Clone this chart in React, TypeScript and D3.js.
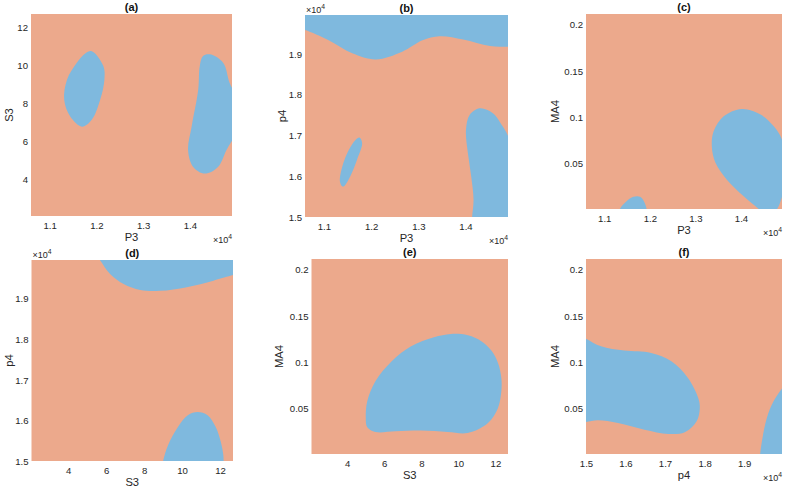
import React, { useEffect, useRef } from "react";
import * as d3 from "d3";

type Pt = [number, number];

// axis ranges and tick values for each parameter
const p3Domain: Pt = [10600, 14900];
const p3Ticks = [11000, 12000, 13000, 14000];
const s3Domain: Pt = [2.07, 12.68];
const s3Ticks = [4, 6, 8, 10, 12];
const p4Domain: Pt = [15000, 19960];
const p4Ticks = [15000, 16000, 17000, 18000, 19000];
const ma4Domain: Pt = [0.001, 0.2115];
const ma4Ticks = [0.05, 0.1, 0.15, 0.2];

// blue region outlines; open outlines are closed through the points in "outside"
const aLeft: Pt[] = [[11900, 10.73], [12150, 9.94], [12170, 9.23], [12080, 8.17], [11900, 7.12], [11690, 6.76], [11440, 7.29], [11310, 8.17], [11370, 9.23], [11580, 10.12], [11760, 10.61]];
const aRight: Pt[] = [[14426, 10.56], [14710, 10.12], [14850, 9.06], [15020, 8.17], [15060, 6.85], [14780, 5.53], [14600, 4.65], [14316, 4.3], [14070, 4.65], [13960, 5.53], [14036, 6.76], [14177, 8.7], [14210, 9.94], [14280, 10.47]];

const bTop: Pt[] = [[10400, 19640], [10600, 19590], [11100, 19340], [11600, 19020], [12100, 18870], [12660, 19060], [13090, 19340], [13450, 19440], [13950, 19360], [14520, 19200], [14930, 19180], [15100, 19180]];
const bTopOut: Pt[] = [[15100, 20500], [10400, 20500]];
const bSmall: Pt[] = [[11754, 16950], [11810, 16810], [11700, 16400], [11560, 16000], [11440, 15770], [11390, 15750], [11340, 15870], [11390, 16240], [11530, 16650], [11670, 16890]];
const bRight: Pt[] = [[14130, 14700], [14140, 15000], [14170, 15420], [14120, 16000], [14050, 16570], [14010, 17140], [14090, 17510], [14300, 17670], [14580, 17550], [14790, 17220], [14910, 16970], [15050, 16600]];
const bRightOut: Pt[] = [[15200, 16600], [15200, 14700]];

const cSmall: Pt[] = [[11300, -0.01], [11345, 0.0011], [11490, 0.0093], [11640, 0.0141], [11786, 0.0141], [11870, 0.0093], [11930, 0.0011], [11950, -0.01]];
const cBig: Pt[] = [[13360, 0.0687], [13400, 0.0849], [13620, 0.101], [14020, 0.109], [14430, 0.1029], [14720, 0.0903], [14900, 0.0759], [14980, 0.05], [14930, 0.02], [14780, 0.0], [14600, -0.008], [14390, 0.001], [14060, 0.0147], [13690, 0.0327], [13440, 0.0508]];

const dTop: Pt[] = [[5.5, 20100], [5.7, 19940], [6.22, 19610], [6.92, 19370], [7.8, 19220], [8.85, 19200], [10.25, 19290], [11.65, 19450], [12.7, 19590], [13.0, 19630]];
const dTopOut: Pt[] = [[13.0, 20300], [5.5, 20300]];
const dBottom: Pt[] = [[8.95, 14800], [9.0, 15000], [9.26, 15390], [9.78, 15840], [10.3, 16130], [10.82, 16210], [11.34, 16130], [11.77, 15840], [12.04, 15470], [12.17, 15150], [12.19, 14800]];

const eBlob: Pt[] = [[5.0, 0.0399], [5.08, 0.0579], [5.52, 0.0795], [6.4, 0.1011], [7.45, 0.1173], [8.68, 0.127], [9.6, 0.1306], [10.52, 0.1291], [11.24, 0.1227], [11.78, 0.1126], [12.14, 0.0993], [12.32, 0.0831], [12.32, 0.0687], [12.14, 0.0507], [11.6, 0.0345], [10.5, 0.0237], [9.42, 0.0248], [8.0, 0.0263], [6.6, 0.0255], [5.52, 0.0248], [5.08, 0.0299]];

const fLeft: Pt[] = [[14800, 0.13], [15000, 0.1255], [15380, 0.1173], [15970, 0.1126], [16650, 0.1101], [17160, 0.1011], [17580, 0.0831], [17840, 0.0615], [17880, 0.0507], [17800, 0.0363], [17500, 0.0245], [17080, 0.0227], [16480, 0.0273], [15810, 0.0345], [15300, 0.0374], [15000, 0.0356], [14800, 0.035]];
const fLeftOut: Pt[] = [[14600, 0.035], [14600, 0.13]];
const fRight: Pt[] = [[19380, -0.01], [19407, 0.0011], [19466, 0.0183], [19576, 0.0399], [19746, 0.0579], [20000, 0.0741], [20200, 0.085]];
const fRightOut: Pt[] = [[20400, 0.085], [20400, -0.02]];

const orange = "#ECA98C";
const blue = "#7FB9DE";
const font = "'Liberation Sans', Arial, sans-serif";

type Region = { pts: Pt[]; closed: boolean; outside?: Pt[] };
type Axis = { name: string; domain: Pt; ticks: number[]; scaled: boolean };

const P3: Axis = { name: "P3", domain: p3Domain, ticks: p3Ticks, scaled: true };
const S3: Axis = { name: "S3", domain: s3Domain, ticks: s3Ticks, scaled: false };
const p4: Axis = { name: "p4", domain: p4Domain, ticks: p4Ticks, scaled: true };
const MA4: Axis = { name: "MA4", domain: ma4Domain, ticks: ma4Ticks, scaled: false };

const panels: { id: string; xa: Axis; ya: Axis; regions: Region[] }[] = [
  { id: "a", xa: P3, ya: S3, regions: [{ pts: aLeft, closed: true }, { pts: aRight, closed: true }] },
  { id: "b", xa: P3, ya: p4, regions: [{ pts: bTop, closed: false, outside: bTopOut }, { pts: bSmall, closed: true }, { pts: bRight, closed: false, outside: bRightOut }] },
  { id: "c", xa: P3, ya: MA4, regions: [{ pts: cSmall, closed: false }, { pts: cBig, closed: true }] },
  { id: "d", xa: S3, ya: p4, regions: [{ pts: dTop, closed: false, outside: dTopOut }, { pts: dBottom, closed: false }] },
  { id: "e", xa: S3, ya: MA4, regions: [{ pts: eBlob, closed: true }] },
  { id: "f", xa: p4, ya: MA4, regions: [{ pts: fLeft, closed: false, outside: fLeftOut }, { pts: fRight, closed: false, outside: fRightOut }] },
];

// frame of each panel: left, top, right, bottom, and y-label distance
const frames: Record<string, [number, number, number, number, number]> = {
  a: [31, 14, 232, 216, 21],
  b: [305, 15, 508, 217, 22],
  c: [586, 14, 782, 209, 30],
  d: [31.5, 260, 233, 461, 21.5],
  e: [311.5, 259, 508, 454, 31],
  f: [586, 259, 782, 454, 30],
};

const tickText = (a: Axis) => (v: d3.NumberValue) =>
  a.scaled ? d3.format(".1f")(+v / 1e4) : String(+(+v).toFixed(3));

const App = () => {
  const ref = useRef<SVGSVGElement>(null);

  useEffect(() => {
    document.body.style.margin = "0";
    const svg = d3.select(ref.current);
    svg.selectAll("*").remove();

    panels.forEach(p => {
      const [L, T, R, B, yOff] = frames[p.id];
      const x = d3.scaleLinear().domain(p.xa.domain).range([L, R]);
      const y = d3.scaleLinear().domain(p.ya.domain).range([B, T]);

      const clipId = `clip-${p.id}`;
      svg.append("clipPath").attr("id", clipId)
        .append("rect").attr("x", L).attr("y", T).attr("width", R - L).attr("height", B - T);

      svg.append("rect")
        .attr("x", L).attr("y", T).attr("width", R - L).attr("height", B - T)
        .attr("fill", orange);

      const area = svg.append("g").attr("clip-path", `url(#${clipId})`);
      p.regions.forEach(r => {
        const line = d3.line<Pt>()
          .x(d => x(d[0]))
          .y(d => y(d[1]))
          .curve(r.closed ? d3.curveCatmullRomClosed.alpha(0.5) : d3.curveCatmullRom.alpha(0.5));
        let d = line(r.pts) || "";
        if (!r.closed) {
          d += (r.outside || []).map(q => `L${x(q[0])},${y(q[1])}`).join("") + "Z";
        }
        area.append("path").attr("d", d).attr("fill", blue);
      });

      // axes: labels only, no lines or tick marks
      const gx = svg.append("g")
        .attr("transform", `translate(0,${B})`)
        .call(d3.axisBottom(x).tickValues(p.xa.ticks).tickSize(0).tickPadding(6.5).tickFormat(tickText(p.xa)));
      const gy = svg.append("g")
        .attr("transform", `translate(${L},0)`)
        .call(d3.axisLeft(y).tickValues(p.ya.ticks).tickSize(0).tickPadding(3).tickFormat(tickText(p.ya)));
      [gx, gy].forEach(g => {
        g.select(".domain").remove();
        g.attr("font-family", font).attr("font-size", 9.6);
        g.selectAll("text").attr("fill", "#262626");
      });

      svg.append("text")
        .attr("x", (L + R) / 2).attr("y", B + 21.7)
        .attr("text-anchor", "middle").attr("dominant-baseline", "middle")
        .attr("font-family", font).attr("font-size", 11.2).attr("fill", "#262626")
        .text(p.xa.name);

      svg.append("text")
        .attr("transform", `translate(${L - yOff},${(T + B) / 2}) rotate(-90)`)
        .attr("text-anchor", "middle").attr("dominant-baseline", "middle")
        .attr("font-family", font).attr("font-size", 11.2).attr("fill", "#262626")
        .text(p.ya.name);

      svg.append("text")
        .attr("x", (L + R) / 2).attr("y", T - 5.5)
        .attr("text-anchor", "middle").attr("dominant-baseline", "middle")
        .attr("font-family", font).attr("font-size", 11).attr("font-weight", "bold").attr("fill", "#111")
        .text(`(${p.id})`);

      // exponent markers
      const expo = (tx: number, ty: number, anchor: string) => {
        const t = svg.append("text")
          .attr("x", tx).attr("y", ty)
          .attr("text-anchor", anchor)
          .attr("font-family", font).attr("font-size", 9).attr("fill", "#262626");
        t.append("tspan").text("×10");
        t.append("tspan").attr("dy", -4).attr("font-size", 6.8).text("4");
      };
      if (p.xa.scaled) expo(R, B + 27, "end");
      if (p.ya.scaled) expo(L + 1, T - 2, "start");
    });
  }, []);

  return <svg ref={ref} width={786} height={491} style={{ display: "block", background: "#fff" }} />;
};

export default App;
